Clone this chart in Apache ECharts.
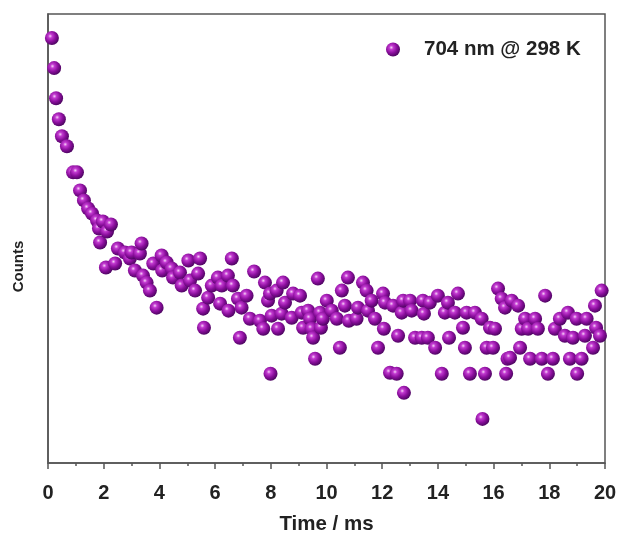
<!DOCTYPE html>
<html>
<head>
<meta charset="utf-8">
<script src="https://cdn.jsdelivr.net/npm/echarts@6/dist/echarts.min.js"></script>
<style>
  html, body { margin: 0; padding: 0; background: #fff; }
  #chart { width: 619px; height: 534px; }
</style>
</head>
<body>
<div id="chart"></div>
<script>
// Luminescence decay of the 704 nm emission at 298 K
const seriesName = '704 nm @ 298 K';
const xTicks = [0, 2, 4, 6, 8, 10, 12, 14, 16, 18, 20];

// Time (ms)
const timeMs = [
  0.14, 0.22, 0.29, 0.39, 0.50, 0.68, 0.90, 1.04, 1.15, 1.29,
  1.44, 1.58, 1.76, 1.83, 1.87, 1.97, 2.08, 2.12, 2.26, 2.41,
  2.51, 2.76, 2.94, 3.00, 3.12, 3.30, 3.36, 3.41, 3.54, 3.66,
  3.78, 3.90, 4.08, 4.10, 4.26, 4.44, 4.49, 4.74, 4.80, 5.04,
  5.10, 5.28, 5.39, 5.46, 5.57, 5.60, 5.75, 5.88, 6.10, 6.18,
  6.24, 6.46, 6.48, 6.60, 6.64, 6.82, 6.89, 6.95, 7.13, 7.25,
  7.40, 7.61, 7.73, 7.79, 7.90, 7.97, 7.99, 8.03, 8.21, 8.26,
  8.39, 8.44, 8.51, 8.75, 8.80, 9.05, 9.11, 9.16, 9.34, 9.41,
  9.47, 9.52, 9.59, 9.69, 9.77, 9.80, 9.87, 10.01, 10.19, 10.37,
  10.48, 10.55, 10.66, 10.77, 10.80, 11.08, 11.13, 11.31, 11.44, 11.49,
  11.62, 11.74, 11.85, 12.03, 12.06, 12.10, 12.28, 12.39, 12.52, 12.57,
  12.70, 12.75, 12.78, 13.00, 13.06, 13.18, 13.42, 13.46, 13.50, 13.64,
  13.71, 13.90, 14.00, 14.14, 14.25, 14.36, 14.40, 14.61, 14.72, 14.90,
  14.97, 15.03, 15.15, 15.33, 15.57, 15.60, 15.69, 15.75, 15.87, 15.98,
  16.05, 16.16, 16.29, 16.41, 16.45, 16.50, 16.59, 16.65, 16.88, 16.95,
  17.01, 17.13, 17.24, 17.31, 17.49, 17.59, 17.73, 17.85, 17.95, 18.13,
  18.20, 18.38, 18.56, 18.67, 18.74, 18.85, 18.98, 19.00, 19.16, 19.28,
  19.34, 19.57, 19.64, 19.68, 19.82, 19.88
];

// Detected counts (a.u.)
const counts = [
  4240, 3940, 3640, 3430, 3260, 3160, 2900, 2900, 2720, 2620,
  2540, 2490, 2420, 2340, 2200, 2410, 1950, 2310, 2380, 1990,
  2140, 2100, 2040, 2100, 1920, 2090, 2190, 1870, 1800, 1720,
  1990, 1550, 2070, 1920, 2000, 1940, 1850, 1900, 1770, 2020,
  1820, 1720, 1890, 2040, 1540, 1350, 1650, 1770, 1850, 1590,
  1770, 1870, 1520, 2040, 1770, 1640, 1250, 1550, 1670, 1440,
  1910, 1420, 1340, 1800, 1620, 1690, 890, 1470, 1720, 1340,
  1490, 1800, 1600, 1450, 1690, 1670, 1500, 1350, 1520, 1440,
  1340, 1250, 1040, 1840, 1500, 1350, 1440, 1620, 1520, 1440,
  1150, 1720, 1570, 1850, 1420, 1440, 1550, 1800, 1720, 1520,
  1620, 1440, 1150, 1690, 1340, 1600, 900, 1570, 890, 1270,
  1500, 1620, 700, 1620, 1520, 1250, 1250, 1620, 1490, 1250,
  1600, 1150, 1670, 890, 1500, 1600, 1250, 1500, 1690, 1350,
  1150, 1500, 890, 1500, 1440, 440, 890, 1150, 1350, 1150,
  1340, 1740, 1640, 1550, 890, 1040, 1050, 1620, 1570, 1150,
  1340, 1440, 1340, 1040, 1440, 1340, 1040, 1670, 890, 1040,
  1340, 1440, 1270, 1500, 1040, 1250, 1440, 890, 1040, 1270,
  1440, 1150, 1570, 1350, 1270, 1720
];

const points = timeMs.map((t, i) => [t, counts[i]]);

// Glossy purple sphere used for every marker
const sphere = {
  type: 'radial', x: 0.38, y: 0.36, r: 0.66,
  colorStops: [
    { offset: 0, color: '#f6d2f8' },
    { offset: 0.22, color: '#c23ad0' },
    { offset: 0.6, color: '#8a0e9c' },
    { offset: 1, color: '#4c0560' }
  ]
};

const axisColor = '#555';
const textColor = '#222';
const fontFamily = '"Liberation Sans", Arial, sans-serif';

const chart = echarts.init(document.getElementById('chart'), null, { renderer: 'canvas' });
chart.setOption({
  animation: false,
  backgroundColor: '#fff',
  grid: {
    left: 48, right: 14, top: 14, bottom: 71,
    outerBoundsMode: 'none', containLabel: false,
    show: true, borderColor: axisColor, borderWidth: 1.5, backgroundColor: 'transparent'
  },
  legend: {
    left: 381, top: 34,
    itemWidth: 14, itemHeight: 14, icon: 'circle',
    data: [seriesName],
    textStyle: {
      fontFamily, fontWeight: 'bold', fontSize: 20.5, color: textColor,
      padding: [0, 0, 0, 19]
    }
  },
  xAxis: {
    type: 'value', min: 0, max: 20, interval: 2,
    name: 'Time / ms', nameLocation: 'middle', nameGap: 51,
    nameTextStyle: { fontFamily, fontWeight: 'bold', fontSize: 20.5, color: textColor },
    axisLine: { show: true, onZero: false, lineStyle: { color: axisColor, width: 1.5 } },
    axisTick: { show: true, inside: false, length: 6, lineStyle: { color: axisColor, width: 1.5 } },
    minorTick: { show: true, splitNumber: 2, length: 3, lineStyle: { color: axisColor, width: 1.5 } },
    axisLabel: {
      margin: 20, fontFamily, fontWeight: 'bold', fontSize: 20, color: textColor,
      formatter: v => (xTicks.includes(v) ? String(v) : '')
    },
    splitLine: { show: false }
  },
  yAxis: {
    type: 'value', min: 0, max: 4480,
    name: 'Counts', nameLocation: 'middle', nameGap: 22, nameRotate: 90,
    nameTextStyle: {
      fontFamily, fontWeight: 'bold', fontSize: 15, color: textColor,
      padding: [0, 56, 0, 0]
    },
    axisLine: { show: true, onZero: false, lineStyle: { color: axisColor, width: 1.5 } },
    axisTick: { show: false },
    axisLabel: { show: false },
    splitLine: { show: false }
  },
  series: [{
    name: seriesName,
    type: 'scatter',
    data: points,
    symbol: 'circle',
    symbolSize: 14,
    itemStyle: { color: sphere, opacity: 1 },
    emphasis: { disabled: true }
  }]
});
</script>
</body>
</html>
